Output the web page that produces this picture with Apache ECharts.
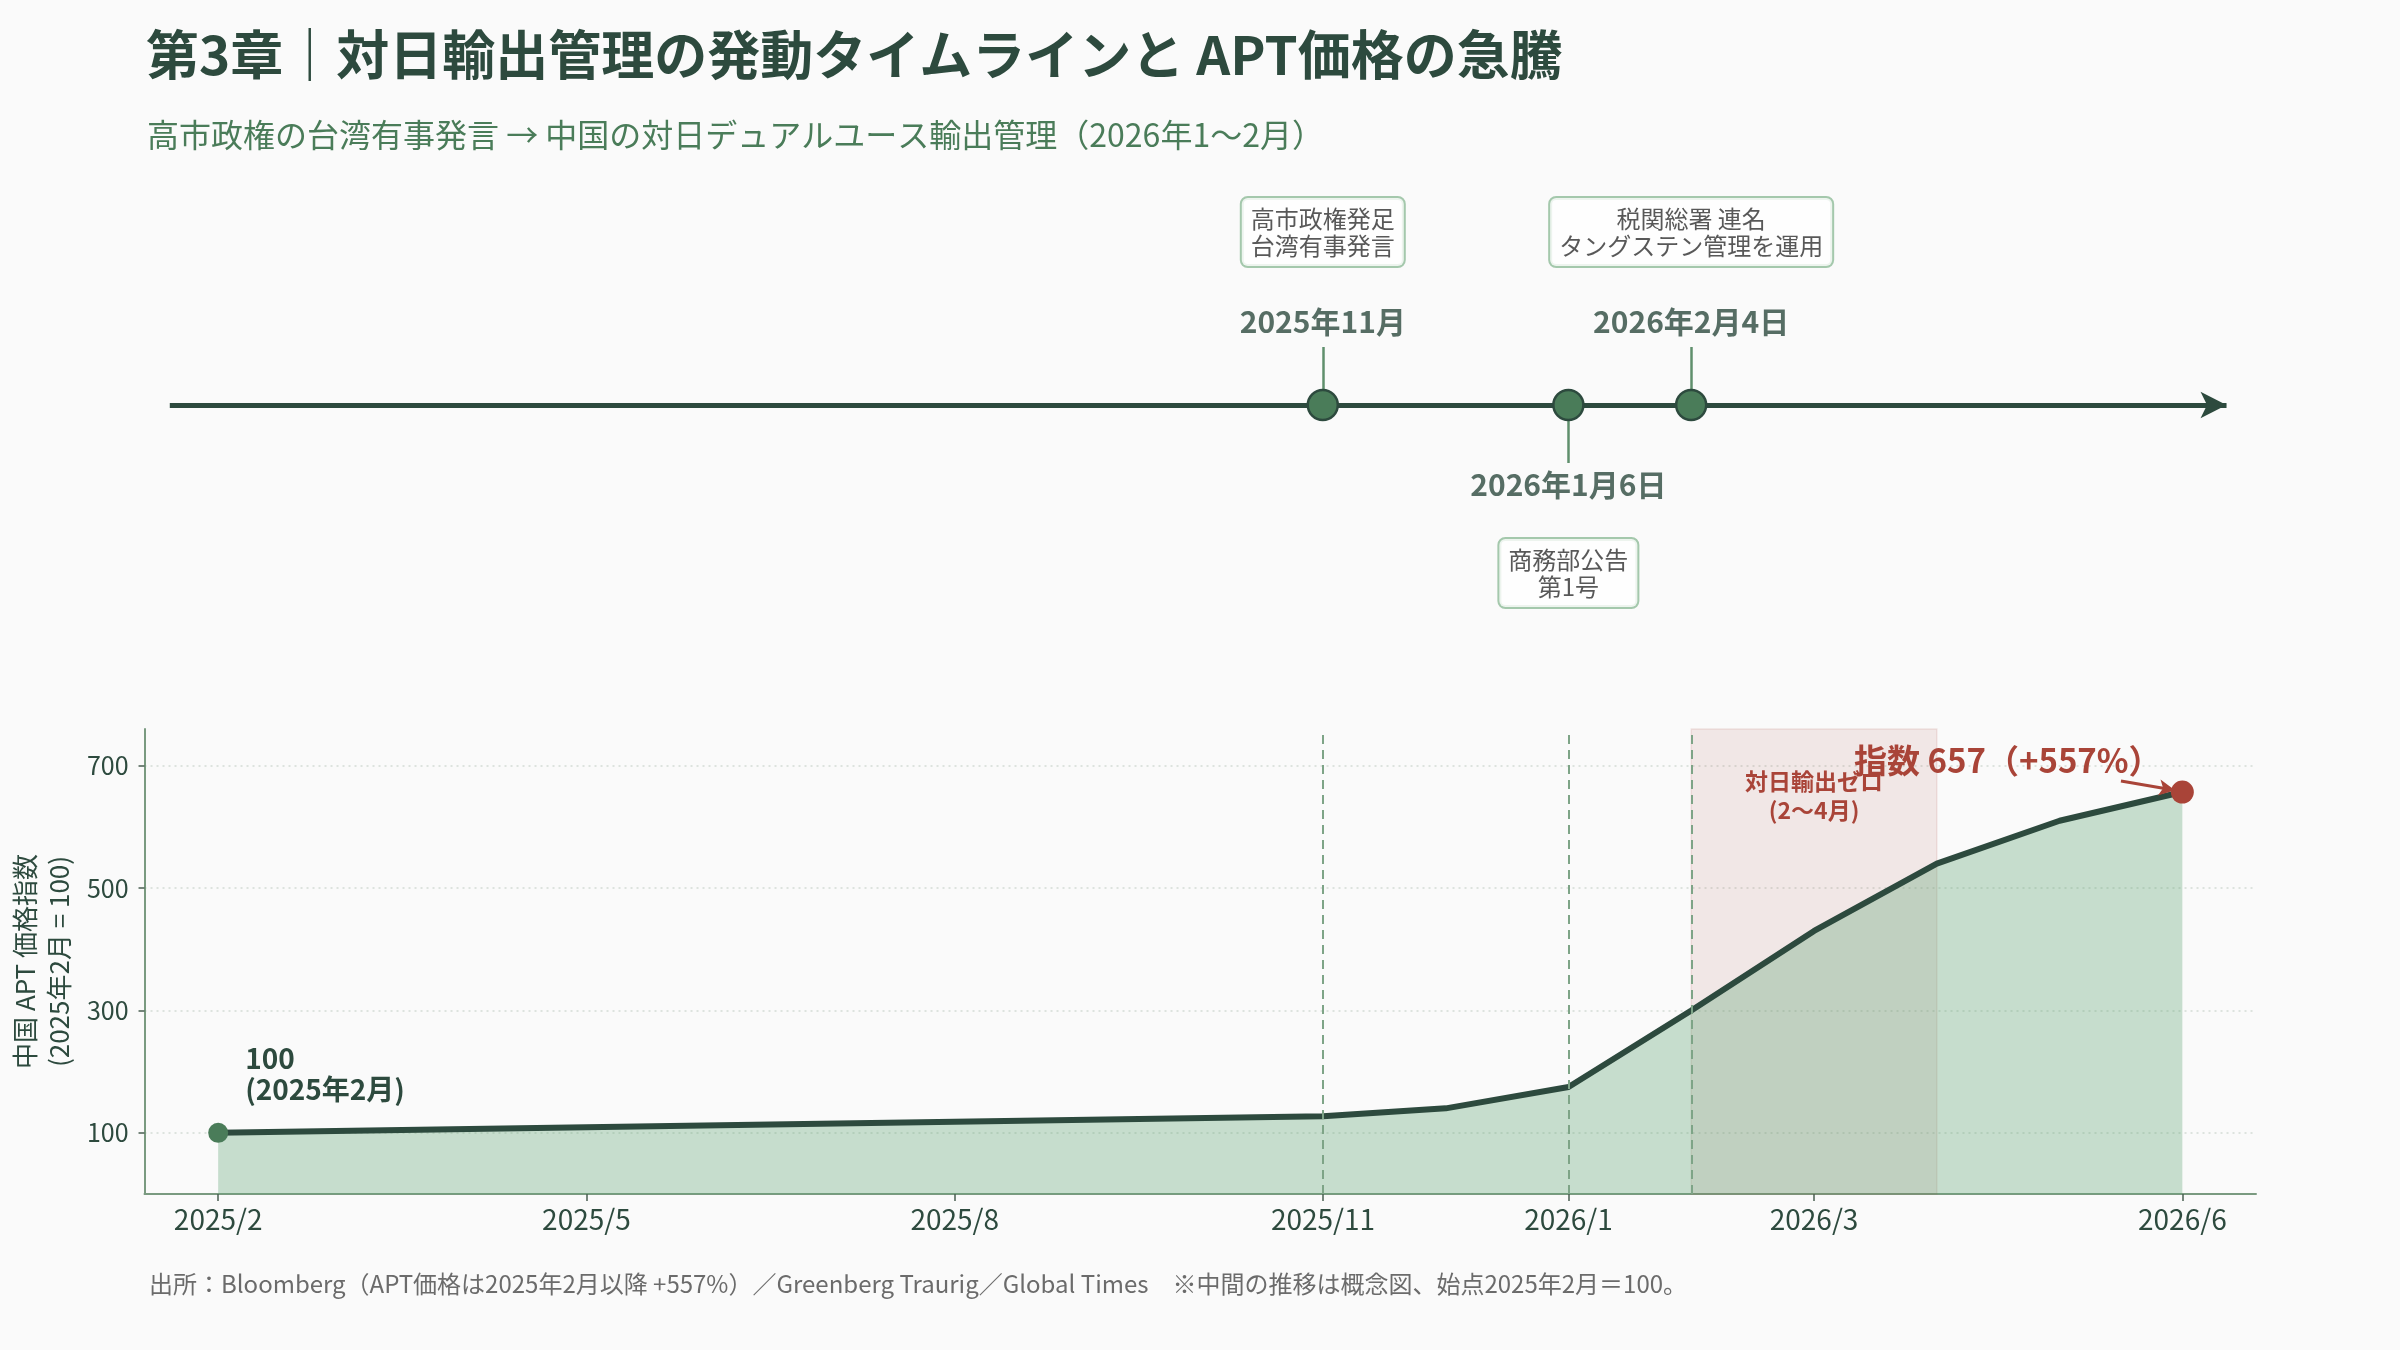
<!DOCTYPE html>
<html lang="ja">
<head>
<meta charset="utf-8"/>
<title>対日輸出管理の発動タイムラインと APT価格の急騰</title>
<script src="https://cdn.jsdelivr.net/npm/echarts@6/dist/echarts.min.js"></script>
<style>
  html, body { margin: 0; height: 100%; background: #fafafa; }
  #chart { width: 2400px; height: 1350px; }
</style>
</head>
<body>
<div id="chart"></div>
<script>
// ---- data (x = months since 2025/2) ----
const monthIdx = [0, 3, 6, 9, 10, 11, 12, 13, 14, 15, 16];
const aptIndex = [100, 109, 118, 127, 140, 175, 300, 430, 540, 610, 657];

const tickIdx = [0, 3, 6, 9, 11, 13, 16];
const tickLabels = ['2025/2', '2025/5', '2025/8', '2025/11', '2026/1', '2026/3', '2026/6'];
const yTicks = [100, 300, 500, 700];

const eventIdx = [9, 11, 12];
const eventDates = ['2025年11月', '2026年1月6日', '2026年2月4日'];
const eventNotes = ['高市政権発足\n台湾有事発言', '商務部公告\n第1号', '税関総署 連名\nタングステン管理を運用'];

const bandRange = [12, 14];
const bandLabel = '対日輸出ゼロ\n(2〜4月)';

const startLabel = '100\n(2025年2月)';
const endLabel = '指数 657（+557%）';

// ---- layout ----
const FONT = '"Noto Sans CJK JP", "Noto Sans", sans-serif';
const X_MIN = -0.6, X_MAX = 16.6;
const DARK = '#2d4a3e', GREEN = '#4a7c59', RED = '#a94438';
const eventUp = [true, false, true];   // stem direction per event

let chart = echarts.init(document.getElementById('chart'));

// timeline pieces
const timelineLines = [
    [{coord: [-0.39, 0], symbol: 'none'},
     {coord: [16.36, 0], symbol: 'arrow', symbolSize: [20, 26],
      lineStyle: {color: DARK, width: 5, type: 'solid'}}]
];
eventIdx.forEach((x, i) => {
    const d = eventUp[i] ? 0.58 : -0.58;
    timelineLines.push([
        {coord: [x, 0], symbol: 'none'},
        {coord: [x, d], symbol: 'none', lineStyle: {color: '#5f8f6c', width: 2.5, type: 'solid'}}
    ]);
});

const dateLabels = eventIdx.map((x, i) => ({
    value: [x, eventUp[i] ? 0.835 : -0.8],
    label: {formatter: eventDates[i]}
}));
const noteLabels = eventIdx.map((x, i) => ({
    value: [x, eventUp[i] ? 1.73 : -1.68],
    label: {formatter: eventNotes[i]}
}));

const lineData = monthIdx.map((m, i) => [m, aptIndex[i]]);
const last = lineData.length - 1;

const option = {
    backgroundColor: '#fafafa',
    animation: false,
    title: [
        {
            text: '第3章｜対日輸出管理の発動タイムラインと APT価格の急騰',
            left: 141, top: 20,
            textStyle: {fontFamily: FONT, fontSize: 53, fontWeight: 'bold', color: DARK, lineHeight: 60}
        },
        {
            text: '高市政権の台湾有事発言 → 中国の対日デュアルユース輸出管理（2026年1〜2月）',
            left: 142, top: 112,
            textStyle: {fontFamily: FONT, fontSize: 32, fontWeight: 'normal', color: GREEN, lineHeight: 36}
        },
        {
            text: '出所：Bloomberg（APT価格は2025年2月以降 +557%）／Greenberg Traurig／Global Times　※中間の推移は概念図、始点2025年2月＝100。',
            left: 144, top: 1265,
            textStyle: {fontFamily: FONT, fontSize: 24, fontWeight: 'normal', color: '#6b6b6b', lineHeight: 28}
        }
    ],
    grid: [
        {left: 144, right: 144, top: 105, height: 600},
        {left: 144, right: 144, top: 729, bottom: 156}
    ],
    xAxis: [
        {type: 'value', gridIndex: 0, min: X_MIN, max: X_MAX, show: false},
        {
            type: 'value', gridIndex: 1, min: X_MIN, max: X_MAX,
            axisLine: {onZero: false, lineStyle: {color: '#7a9a80', width: 2}},
            axisTick: {show: true, customValues: tickIdx, length: 7, lineStyle: {color: '#4a5f52', width: 1.5}},
            axisLabel: {
                customValues: tickIdx, margin: 11,
                fontFamily: FONT, fontSize: 28, color: DARK,
                formatter: v => tickLabels[tickIdx.indexOf(v)] || ''
            },
            splitLine: {show: false}
        }
    ],
    yAxis: [
        {type: 'value', gridIndex: 0, min: -3, max: 3, show: false},
        {
            type: 'value', gridIndex: 1, min: 0, max: 760,
            name: '中国 APT 価格指数\n(2025年2月 = 100)',
            nameLocation: 'middle', nameGap: 53, nameRotate: 90,
            nameTextStyle: {fontFamily: FONT, fontSize: 26, color: DARK, lineHeight: 34},
            axisLine: {show: true, onZero: false, lineStyle: {color: '#7a9a80', width: 2}},
            axisTick: {show: true, customValues: yTicks, length: 6, lineStyle: {color: '#4a5f52', width: 1.5}},
            axisLabel: {customValues: yTicks, margin: 16, fontFamily: FONT, fontSize: 25, color: DARK},
            splitLine: {show: true, lineStyle: {type: [2, 4], color: '#d3dbd5', width: 1.5}}
        }
    ],
    series: [
        // timeline axis + stems
        {
            type: 'scatter', xAxisIndex: 0, yAxisIndex: 0, z: 1, data: [],
            markLine: {
                silent: true, animation: false,
                label: {show: false},
                data: timelineLines
            }
        },
        // timeline dots
        {
            type: 'scatter', xAxisIndex: 0, yAxisIndex: 0, z: 10,
            symbolSize: 30,
            itemStyle: {color: GREEN, borderColor: DARK, borderWidth: 2.5, opacity: 1},
            data: eventIdx.map(x => [x, 0])
        },
        // date labels
        {
            type: 'scatter', xAxisIndex: 0, yAxisIndex: 0, z: 10, clip: false,
            symbolSize: 1, itemStyle: {color: 'rgba(0,0,0,0)'},
            label: {show: true, position: 'inside', fontFamily: FONT, fontSize: 30, fontWeight: 'bold', color: DARK},
            data: dateLabels
        },
        // note boxes
        {
            type: 'scatter', xAxisIndex: 0, yAxisIndex: 0, z: 10, clip: false,
            symbolSize: 1, itemStyle: {color: 'rgba(0,0,0,0)'},
            label: {
                show: true, position: 'inside', align: 'center', verticalAlign: 'middle',
                fontFamily: FONT, fontSize: 24, lineHeight: 27, color: '#2e2e2e',
                backgroundColor: '#ffffff', borderColor: '#8fbc98', borderWidth: 2, borderRadius: 6,
                padding: [7, 9]
            },
            data: noteLabels
        },
        // reference dashed lines + export-zero band
        {
            type: 'line', xAxisIndex: 1, yAxisIndex: 1, z: 1, data: [],
            markLine: {
                silent: true, symbol: 'none', animation: false,
                label: {show: false},
                lineStyle: {color: '#7ea487', width: 2, type: [9, 6]},
                data: eventIdx.map(x => ({xAxis: x}))
            },
            markArea: {
                silent: true,
                itemStyle: {color: 'rgba(169,68,56,0.10)', borderColor: 'rgba(169,68,56,0.12)', borderWidth: 1.5},
                label: {
                    show: true, position: 'insideTop', distance: 39,
                    fontFamily: FONT, fontSize: 23, lineHeight: 29, fontWeight: 'bold', color: RED
                },
                data: [[{xAxis: bandRange[0], name: bandLabel}, {xAxis: bandRange[1]}]]
            }
        },
        // APT index line
        {
            type: 'line', xAxisIndex: 1, yAxisIndex: 1, z: 3,
            symbol: 'none',
            lineStyle: {color: DARK, width: 6},
            areaStyle: {color: 'rgba(100,165,120,0.35)', opacity: 1},
            data: lineData
        },
        // start point
        {
            type: 'scatter', xAxisIndex: 1, yAxisIndex: 1, z: 6, clip: false,
            symbolSize: 20, itemStyle: {color: GREEN, opacity: 1},
            label: {
                show: true, position: [37, -80], align: 'left', verticalAlign: 'top',
                formatter: startLabel, fontFamily: FONT, fontSize: 28, lineHeight: 31,
                fontWeight: 'bold', color: DARK
            },
            data: [lineData[0]]
        },
        // end point + callout arrow
        {
            type: 'scatter', xAxisIndex: 1, yAxisIndex: 1, z: 6, clip: false,
            symbolSize: 23, itemStyle: {color: RED, opacity: 1},
            label: {
                show: true, position: [-163, -20], align: 'center', verticalAlign: 'middle',
                formatter: endLabel, fontFamily: FONT, fontSize: 33, fontWeight: 'bold', color: RED
            },
            markLine: {
                silent: true, animation: false,
                symbol: ['none', 'arrow'], symbolSize: [12, 16],
                label: {show: false},
                lineStyle: {color: RED, width: 3, type: 'solid'},
                data: [[{coord: [15.5, 675]}, {coord: [15.94, 660]}]]
            },
            data: [lineData[last]]
        }
    ]
};

chart.setOption(option);
</script>
</body>
</html>
